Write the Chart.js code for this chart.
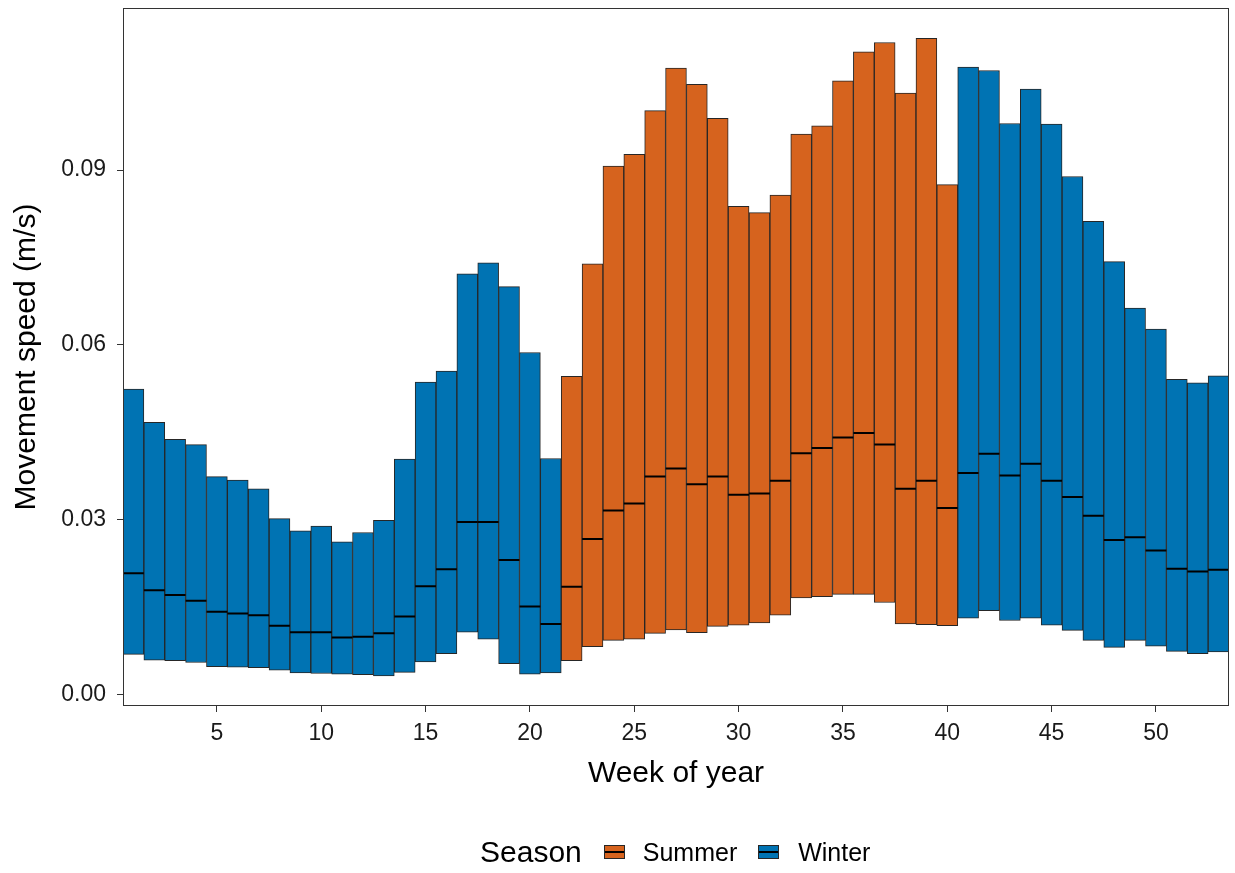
<!DOCTYPE html>
<html>
<head>
<meta charset="utf-8">
<script src="https://cdn.jsdelivr.net/npm/chart.js@4/dist/chart.umd.min.js"></script>
<style>
  html, body { margin: 0; padding: 0; background: #ffffff; }
  #wrap { position: relative; width: 1235px; height: 873px; font-family: "Liberation Sans", Arial, sans-serif; }
  #chart { position: absolute; left: 0; top: 0; }
  #legend { position: absolute; left: 480px; top: 834px; height: 36px; display: flex; align-items: center; color: #000; }
  #legend .title { font-size: 30px; margin-right: 22px; line-height: 36px; }
  #legend .key { width: 19px; height: 12px; border: 1px solid #262626; }
  #legend .lab { font-size: 25px; line-height: 36px; }
</style>
</head>
<body>
<div id="wrap">
  <canvas id="chart" width="1235" height="873"></canvas>
  <div id="legend">
    <span class="title">Season</span>
    <span class="key" id="keySummer"></span>
    <span class="lab" style="margin-left:18px;margin-right:21px;">Summer</span>
    <span class="key" id="keyWinter"></span>
    <span class="lab" style="margin-left:19px;">Winter</span>
  </div>
</div>
<script>
// ---- data ----
const weeks = [1,2,3,4,5,6,7,8,9,10,11,12,13,14,15,16,17,18,19,20,21,22,23,24,25,26,27,28,29,30,31,32,33,34,35,36,37,38,39,40,41,42,43,44,45,46,47,48,49,50,51,52,53];
const season = ['Winter','Winter','Winter','Winter','Winter','Winter','Winter','Winter','Winter','Winter','Winter','Winter','Winter','Winter','Winter','Winter','Winter','Winter','Winter','Winter','Winter',
  'Summer','Summer','Summer','Summer','Summer','Summer','Summer','Summer','Summer','Summer','Summer','Summer','Summer','Summer','Summer','Summer','Summer','Summer','Summer',
  'Winter','Winter','Winter','Winter','Winter','Winter','Winter','Winter','Winter','Winter','Winter','Winter','Winter'];
const lower = [0.0069,0.0059,0.0058,0.0055,0.0048,0.0047,0.0046,0.0042,0.0037,0.0036,0.0035,0.0034,0.0032,0.0038,0.0056,0.0070,0.0107,0.0095,0.0053,0.0035,0.0037,
  0.0058,0.0082,0.0093,0.0095,0.0105,0.0111,0.0106,0.0117,0.0119,0.0123,0.0136,0.0166,0.0168,0.0172,0.0172,0.0158,0.0121,0.0120,0.0118,
  0.0131,0.0144,0.0127,0.0131,0.0119,0.0110,0.0093,0.0081,0.0093,0.0083,0.0074,0.0070,0.0073];
const median = [0.0208,0.0179,0.0171,0.0161,0.0142,0.0139,0.0136,0.0118,0.0107,0.0107,0.0098,0.0099,0.0105,0.0134,0.0186,0.0215,0.0296,0.0296,0.0231,0.0151,0.0121,
  0.0185,0.0267,0.0316,0.0328,0.0374,0.0388,0.0361,0.0374,0.0343,0.0345,0.0367,0.0414,0.0423,0.0441,0.0449,0.0429,0.0353,0.0367,0.0320,
  0.0380,0.0413,0.0376,0.0396,0.0367,0.0339,0.0307,0.0265,0.0270,0.0247,0.0216,0.0211,0.0214];
const upper = [0.0524,0.0467,0.0438,0.0429,0.0374,0.0368,0.0353,0.0302,0.0281,0.0289,0.0262,0.0278,0.0299,0.0404,0.0536,0.0555,0.0722,0.0741,0.0700,0.0587,0.0405,
  0.0546,0.0739,0.0907,0.0927,0.1002,0.1075,0.1047,0.0989,0.0838,0.0827,0.0857,0.0962,0.0976,0.1053,0.1103,0.1119,0.1032,0.1126,0.0875,
  0.1077,0.1071,0.0980,0.1039,0.0979,0.0889,0.0812,0.0743,0.0663,0.0627,0.0541,0.0535,0.0547];
const yTicks = [0.00, 0.03, 0.06, 0.09];
const xTickWeeks = [5,10,15,20,25,30,35,40,45,50];

// ---- styling ----
const seasonColors = { Summer: '#D6631E', Winter: '#0073B3' };
const edge = '#262626';
const fontFamily = '"Liberation Sans", Arial, sans-serif';

function keyBg(c) {
  return 'linear-gradient(to bottom,' + c + ' 0 40%,#000 40% 60%,' + c + ' 60% 100%)';
}
document.getElementById('keySummer').style.background = keyBg(seasonColors.Summer);
document.getElementById('keyWinter').style.background = keyBg(seasonColors.Winter);

function boxes(s) {
  return weeks.map((w, i) => season[i] === s ? [lower[i], upper[i]] : null);
}
function boxDs(label, data, color) {
  return {
    type: 'bar', label: label, data: data, order: 2,
    backgroundColor: color, borderColor: edge, borderWidth: 1, borderSkipped: false,
    barPercentage: 1, categoryPercentage: 1, grouped: false
  };
}

const framePlugin = {
  id: 'frame',
  afterDraw(chart) {
    const a = chart.chartArea, ctx = chart.ctx;
    ctx.save();
    ctx.strokeStyle = '#333333';
    ctx.lineWidth = 1;
    ctx.strokeRect(Math.round(a.left) + 0.5, Math.round(a.top) + 0.5,
      Math.round(a.right - a.left) - 1, Math.round(a.bottom - a.top) - 1);
    ctx.restore();
  }
};

new Chart(document.getElementById('chart'), {
  type: 'bar',
  data: {
    labels: weeks.map(String),
    datasets: [
      {
        type: 'line', label: 'Median', data: median, order: 0, showLine: false,
        pointStyle: 'line', pointRadius: 10.4, pointHoverRadius: 10.4,
        pointBorderWidth: 2, pointBorderColor: '#000', borderColor: '#000'
      },
      boxDs('Summer', boxes('Summer'), seasonColors.Summer),
      boxDs('Winter', boxes('Winter'), seasonColors.Winter)
    ]
  },
  options: {
    responsive: false,
    devicePixelRatio: 1,
    animation: false,
    events: [],
    layout: { autoPadding: false, padding: { left: 0, right: 6, top: 8, bottom: 73 } },
    plugins: { legend: { display: false }, tooltip: { enabled: false } },
    scales: {
      x: {
        type: 'category',
        offset: true,
        border: { display: false },
        grid: {
          offset: false, drawOnChartArea: false, drawTicks: true, tickLength: 6, lineWidth: 1,
          color: (c) => (c.tick && xTickWeeks.includes(weeks[c.index])) ? '#333333' : 'rgba(0,0,0,0)'
        },
        ticks: {
          autoSkip: false, maxRotation: 0, minRotation: 0, padding: 8, color: '#1a1a1a',
          font: { family: fontFamily, size: 23 },
          callback: function (v, i) { return xTickWeeks.includes(weeks[i]) ? String(weeks[i]) : ''; }
        },
        title: { display: true, text: 'Week of year', color: '#000', font: { family: fontFamily, size: 30 }, padding: { top: 0, bottom: 8 } },
        afterFit: (s) => { s.height = 94; s.paddingLeft = 0; s.paddingRight = 0; }
      },
      y: {
        min: -0.00197, max: 0.11782,
        border: { display: false },
        grid: { drawOnChartArea: false, drawTicks: true, tickLength: 6, color: '#333333', lineWidth: 1 },
        afterBuildTicks: (s) => { s.ticks = yTicks.map(v => ({ value: v })); },
        ticks: {
          padding: 11, color: '#1a1a1a', font: { family: fontFamily, size: 23 },
          callback: (v) => Number(v).toFixed(2)
        },
        title: { display: true, text: 'Movement speed (m/s)', color: '#000', font: { family: fontFamily, size: 30 }, padding: { top: 9, bottom: 0 } },
        afterFit: (s) => { s.width = 123; s.paddingTop = 0; s.paddingBottom = 0; }
      }
    }
  },
  plugins: [framePlugin]
});
</script>
</body>
</html>
